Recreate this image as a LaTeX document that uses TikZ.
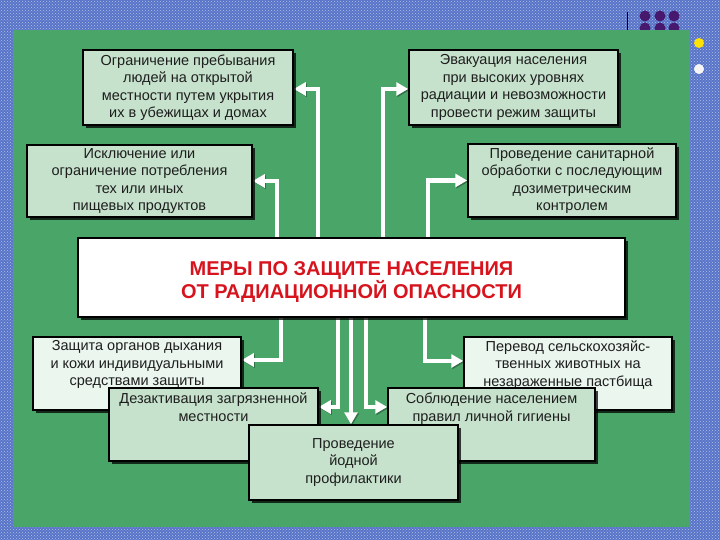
\documentclass[tikz,border=0pt]{standalone}
\usepackage{fontspec}
\setmainfont{Liberation Sans}
\usetikzlibrary{arrows.meta,shadows,patterns}
\definecolor{bgblue}{RGB}{88,116,200}
\definecolor{grn}{RGB}{74,165,104}
\definecolor{boxg}{RGB}{198,226,204}
\definecolor{boxw}{RGB}{234,246,238}
\definecolor{ttl}{RGB}{215,20,30}
\definecolor{dotp}{RGB}{70,25,110}
\definecolor{txt}{RGB}{30,30,30}
\pgfdeclarelayer{bg}
\pgfdeclarelayer{arrowlayer}
\pgfsetlayers{bg,arrowlayer,main}
\tikzset{
  box/.style={draw=black, line width=1.5pt, fill=boxg, text=txt, inner sep=0pt,
    font=\fontsize{14.5}{17.5}\selectfont, align=center,
    drop shadow={shadow xshift=3pt, shadow yshift=-3pt, opacity=0.75, fill=black}},
  arr/.style={draw=white, line width=4.6pt, line join=miter,
    -{Triangle[width=13pt,length=12pt]},
    preaction={draw=black!70!grn, opacity=0.45, transform canvas={shift={(1.2pt,-1.2pt)}}}},
}
\newcommand{\tbox}[4]{\parbox[c][#1pt][t]{#2pt}{\centering\vspace*{#3pt}#4}}
\begin{document}
\begin{tikzpicture}[x=1pt,y=-1pt]
\useasboundingbox (0,0) rectangle (720,540);
% background
\begin{pgfonlayer}{bg}
\fill[bgblue] (0,0) rectangle (720,540);
\fill[pattern=crosshatch dots, pattern color=white!55!bgblue] (0,0) rectangle (720,540);
\foreach \cx in {645,660,674} {
  \fill[dotp] (\cx,16) circle (5.5);
  \fill[dotp] (\cx,28) circle (5.5);
}
\draw[black, line width=0.8pt] (627,12) -- (627,30);
\fill[grn] (13,30) rectangle (690,527);
\fill[yellow!85!orange] (699,43) circle (5);
\fill[white!92!gray] (699,69) circle (5);
\end{pgfonlayer}

% boxes
\node[box, minimum width=210, minimum height=75] (b1) at (188,87.5)
  {Ограничение пребывания\\людей на открытой\\местности путем укрытия\\их в убежищах и домах};
\node[box, minimum width=209, minimum height=75] (b2) at (513.5,87.5)
  {Эвакуация населения\\при высоких уровнях\\радиации и невозможности\\провести режим защиты};
\node[box, minimum width=225, minimum height=72] (b3) at (139.5,181)
  {Исключение или\\ограничение потребления\\тех или иных\\пищевых продуктов};
\node[box, minimum width=208, minimum height=73] (b4) at (572,180.5)
  {Проведение санитарной\\обработки с последующим\\дозиметрическим\\контролем};
\node[box, fill=white, text=ttl] (c) at (351.5,277.5)
  {\tbox{79}{547}{24}{\bfseries\fontsize{20}{23}\selectfont МЕРЫ ПО ЗАЩИТЕ НАСЕЛЕНИЯ\\ОТ РАДИАЦИОННОЙ ОПАСНОСТИ}};
\node[box, fill=boxw] (b5) at (137,373.5)
  {\tbox{73}{208}{3.5}{Защита органов дыхания\\и кожи индивидуальными\\средствами защиты}};
\node[box, fill=boxw] (b6) at (568,373.5)
  {\tbox{73}{208}{3.5}{Перевод сельскохозяйс-\\твенных животных на\\незараженные пастбища}};
\node[box] (b7) at (213.5,424.5)
  {\tbox{73}{209}{5}{Дезактивация загрязненной\\местности}};
\node[box] (b8) at (491.5,424.5)
  {\tbox{73}{207}{5}{Соблюдение населением\\правил личной гигиены}};
\node[box, minimum width=209, minimum height=75] (b9) at (353.5,462.5)
  {Проведение\\йодной\\профилактики};

% rails
\coordinate (x277) at (277,0);
\coordinate (x318) at (318,0);
\coordinate (x383) at (383,0);
\coordinate (x428) at (428,0);
\coordinate (x281) at (281,0);
\coordinate (x338) at (338,0);
\coordinate (x351) at (351,0);
\coordinate (x366) at (366,0);
\coordinate (x425) at (425,0);

\begin{pgfonlayer}{arrowlayer}
\draw[arr] (c.north -| x318) |- ([yshift=-1.5pt]b1.east);
\draw[arr] (c.north -| x383) |- ([yshift=-1.5pt]b2.west);
\draw[arr] (c.north -| x277) |- (b3.east);
\draw[arr] (c.north -| x428) |- (b4.west);
\draw[arr] (c.south -| x281) |- ([yshift=13.5pt]b5.east);
\draw[arr] (c.south -| x425) |- ([yshift=12.5pt]b6.west);
\draw[arr] (c.south -| x338) |- ([yshift=17.5pt]b7.east);
\draw[arr] (c.south -| x366) |- ([yshift=17.5pt]b8.west);
\draw[arr] (c.south -| x351) -- (b9.north -| x351);
\end{pgfonlayer}
\end{tikzpicture}
\end{document}
